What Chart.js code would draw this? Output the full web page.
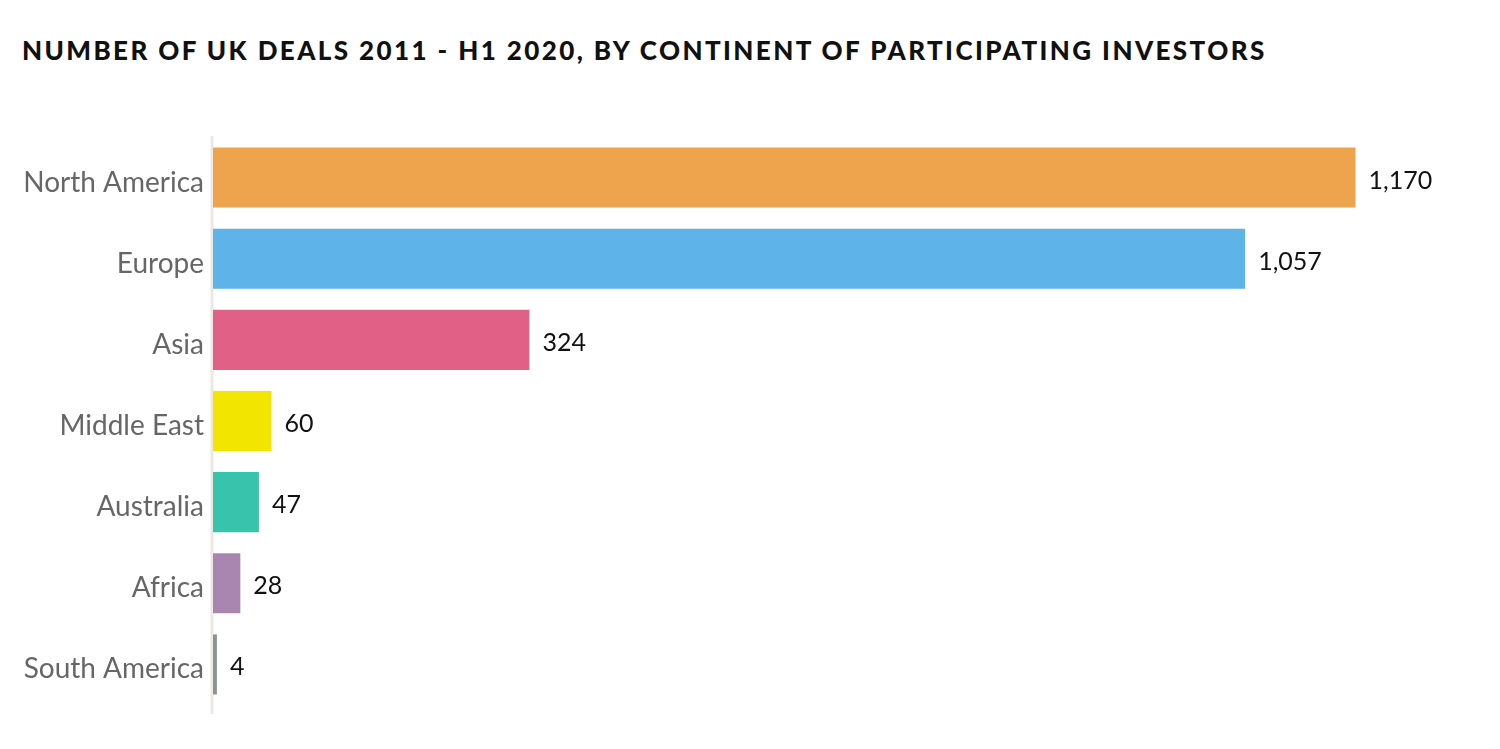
<!DOCTYPE html>
<html lang="en">

<head>
    <meta charset="UTF-8">
    <title>UK deals by continent</title>
    <style>
        html, body {
            margin: 0;
            padding: 0;
            background: #ffffff;
        }

        #pagina {
            position: relative;
            width: 1500px;
            height: 749px;
        }

        #titulo {
            position: absolute;
            left: 22px;
            top: 35px;
            margin: 0;
            font-family: Lato, "Open Sans", sans-serif;
            font-weight: 900;
            font-size: 26px;
            line-height: 30px;
            letter-spacing: 2.4px;
            color: #111111;
            white-space: nowrap;
        }

        #grafico {
            position: absolute;
            left: 0;
            top: 0;
            width: 1500px;
            height: 749px;
        }
    </style>
</head>

<body>
    <div id="pagina">
        <h1 id="titulo">NUMBER OF UK DEALS 2011 - H1 2020, BY CONTINENT OF PARTICIPATING INVESTORS</h1>
        <div id="grafico">
            <canvas id="canvasDeals"></canvas>
        </div>
    </div>
</body>

</html>
<script src="https://cdn.jsdelivr.net/npm/chart.js"></script>
<script>
    const continentes = ['North America', 'Europe', 'Asia', 'Middle East', 'Australia', 'Africa', 'South America'];
    const totalDeals = [1170, 1057, 324, 60, 47, 28, 4];
    const coresBarras = ['#eea34d', '#5eb3e8', '#e06086', '#f2e600', '#38c3ac', '#a886b0', '#8a9590'];

    // linha vertical do eixo, um pouco mais comprida que a area do grafico
    const linhaEixo = {
        id: 'linhaEixo',
        beforeDatasetsDraw(chart) {
            const ctx = chart.ctx;
            const area = chart.chartArea;
            const x = chart.scales.x.getPixelForValue(0) - 1;
            ctx.save();
            ctx.strokeStyle = '#ede8e1';
            ctx.lineWidth = 3;
            ctx.beginPath();
            ctx.moveTo(x, area.top - 1);
            ctx.lineTo(x, area.bottom + 9);
            ctx.stroke();
            ctx.restore();
        }
    };

    // escreve o valor ao lado de cada barra
    const rotulosValores = {
        id: 'rotulosValores',
        afterDatasetsDraw(chart) {
            const ctx = chart.ctx;
            const meta = chart.getDatasetMeta(0);
            ctx.save();
            ctx.font = '25px Lato, "Open Sans", sans-serif';
            ctx.fillStyle = '#111111';
            ctx.textAlign = 'left';
            ctx.textBaseline = 'middle';
            meta.data.forEach((barra, i) => {
                ctx.fillText(totalDeals[i].toLocaleString('en-US'), barra.x + 13, barra.y + 3);
            });
            ctx.restore();
        }
    };

    const graficoDeals = document.getElementById('canvasDeals');

    new Chart(graficoDeals, {
        type: 'bar',
        data: {
            labels: continentes,
            datasets: [{
                label: 'Number of UK deals',
                data: totalDeals,
                backgroundColor: coresBarras,
                borderWidth: 0,
                categoryPercentage: 1,
                barPercentage: 0.74
            }]
        },
        plugins: [linhaEixo, rotulosValores],
        options: {
            indexAxis: 'y',
            responsive: true,
            maintainAspectRatio: false,
            animation: false,
            layout: {
                padding: { top: 137, bottom: 44, left: 0, right: 0 }
            },
            plugins: {
                legend: { display: false },
                tooltip: { enabled: false },
                title: { display: false }
            },
            scales: {
                x: {
                    display: false,
                    min: 0,
                    max: 1318
                },
                y: {
                    grid: { display: false, drawTicks: false },
                    border: { display: false },
                    ticks: {
                        color: '#666666',
                        padding: 9,
                        labelOffset: 5,
                        font: { family: 'Lato, "Open Sans", sans-serif', size: 28 }
                    },
                    afterFit(escala) {
                        escala.width = 213;
                    }
                }
            }
        }
    });
</script>
